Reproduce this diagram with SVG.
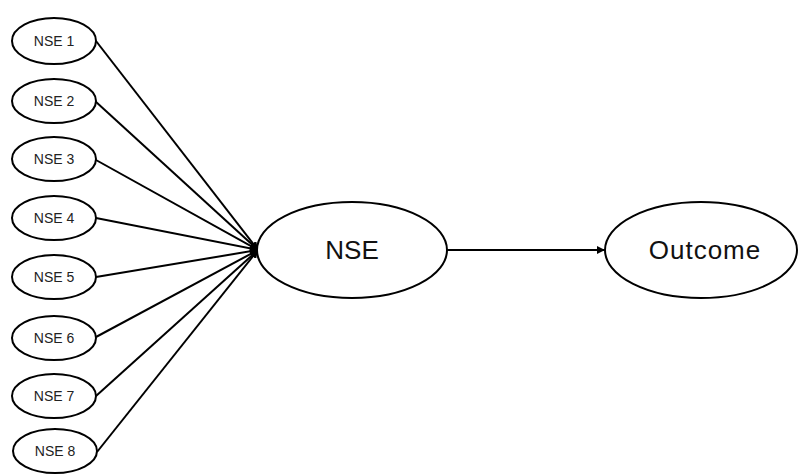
<svg xmlns="http://www.w3.org/2000/svg" width="798" height="474" viewBox="0 0 798 474">
<defs>
<style>
.node ellipse{fill:#fff;stroke:#000;stroke-width:2}
.small text{font-family:"Liberation Sans",Arial,sans-serif;font-size:14px;fill:#222;text-anchor:middle;dominant-baseline:central}
.big text{font-family:"Liberation Sans",Arial,sans-serif;font-size:26px;fill:#111;text-anchor:middle;dominant-baseline:central}
.edges line{stroke:#000;stroke-width:2;marker-end:url(#ah)}
</style>
<marker id="ah" viewBox="0 0 10 10" refX="10" refY="5" markerWidth="4" markerHeight="4" orient="auto" markerUnits="strokeWidth">
<path d="M0,0 L10,5 L0,10 z" fill="#000"/>
</marker>
</defs>
<rect width="798" height="474" fill="#fff"/>
<g class="edges">
<line x1="96" y1="41" x2="258" y2="250"/>
<line x1="95" y1="101" x2="258" y2="250"/>
<line x1="96" y1="160" x2="258" y2="250"/>
<line x1="96" y1="218" x2="258" y2="250"/>
<line x1="96" y1="277" x2="258" y2="250"/>
<line x1="96" y1="337" x2="258" y2="250"/>
<line x1="96" y1="396" x2="258" y2="250"/>
<line x1="97" y1="452" x2="258" y2="250"/>
<line x1="447" y1="250" x2="605" y2="250"/>
</g>
<g id="nse1" class="node small"><ellipse cx="54" cy="41" rx="42" ry="23"/><text x="54" y="41">NSE 1</text></g>
<g id="nse2" class="node small"><ellipse cx="54" cy="101" rx="42" ry="22"/><text x="54" y="101">NSE 2</text></g>
<g id="nse3" class="node small"><ellipse cx="54" cy="159" rx="42" ry="22"/><text x="54" y="159">NSE 3</text></g>
<g id="nse4" class="node small"><ellipse cx="54" cy="218" rx="42" ry="22"/><text x="54" y="218">NSE 4</text></g>
<g id="nse5" class="node small"><ellipse cx="54" cy="277" rx="42" ry="22"/><text x="54" y="277">NSE 5</text></g>
<g id="nse6" class="node small"><ellipse cx="54" cy="338" rx="42" ry="22"/><text x="54" y="338">NSE 6</text></g>
<g id="nse7" class="node small"><ellipse cx="54" cy="396" rx="42" ry="22"/><text x="54" y="396">NSE 7</text></g>
<g id="nse8" class="node small"><ellipse cx="55" cy="451" rx="42" ry="22"/><text x="55" y="451">NSE 8</text></g>
<g id="nse" class="node big"><ellipse cx="352" cy="250" rx="95" ry="48"/><text x="352" y="250">NSE</text></g>
<g id="outcome" class="node big"><ellipse cx="701" cy="250" rx="96" ry="48"/><text x="705" y="250" letter-spacing="1">Outcome</text></g>
</svg>
